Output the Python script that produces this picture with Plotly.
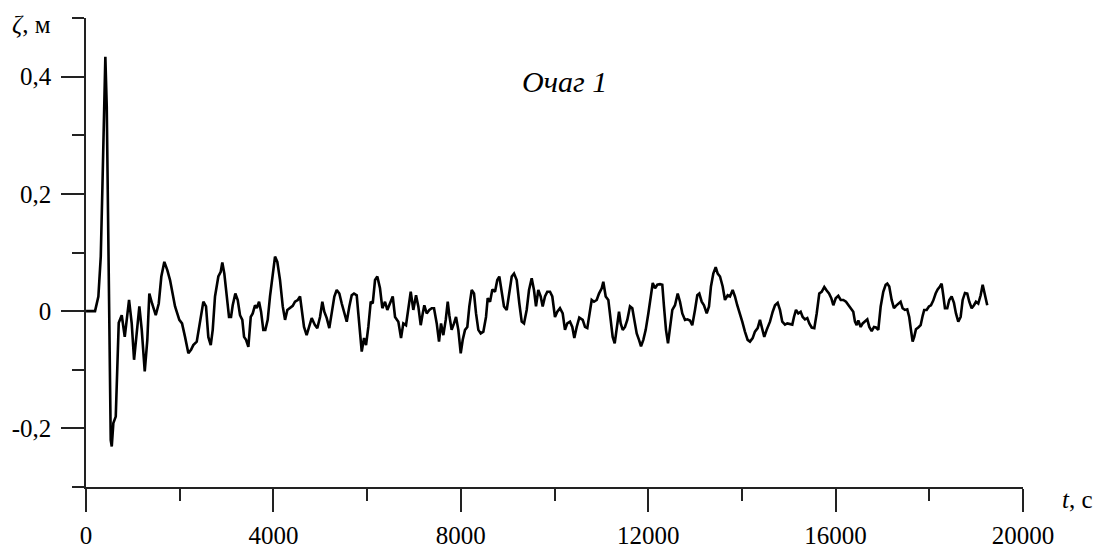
import plotly.graph_objects as go

# Time (s) and sea-level elevation zeta (m)
t = [0, 192, 263, 314, 348, 384, 412, 442, 463, 485, 506, 527, 549, 583, 634, 668, 698, 762, 826,
     918, 975, 1025, 1082, 1138, 1189, 1253, 1308, 1351, 1409, 1488, 1552, 1607, 1671, 1735, 1793,
     1900, 1991, 2049, 2113, 2184, 2241, 2290, 2363, 2433, 2504, 2561, 2610, 2662, 2704, 2753, 2824,
     2875, 2909, 2952, 3003, 3052, 3095, 3131, 3187, 3238, 3287, 3336, 3373, 3415, 3465, 3516, 3558,
     3607, 3644, 3693, 3736, 3784, 3827, 3878, 3927, 3985, 4034, 4083, 4141, 4199, 4248, 4297, 4354,
     4412, 4461, 4519, 4568, 4604, 4653, 4709, 4759, 4817, 4887, 4937, 4995, 5044, 5086, 5138, 5193,
     5244, 5300, 5351, 5407, 5458, 5513, 5565, 5620, 5671, 5720, 5778, 5812, 5848, 5885, 5934, 5977,
     6026, 6077, 6120, 6169, 6218, 6275, 6325, 6382, 6431, 6489, 6547, 6596, 6666, 6724, 6773, 6830,
     6879, 6931, 6986, 7044, 7093, 7144, 7187, 7221, 7272, 7328, 7379, 7428, 7486, 7535, 7578, 7627,
     7678, 7721, 7755, 7804, 7855, 7898, 7947, 7998, 8041, 8090, 8139, 8182, 8233, 8282, 8325, 8374,
     8425, 8481, 8538, 8574, 8624, 8673, 8730, 8779, 8822, 8873, 8922, 8980, 9029, 9087, 9136, 9193,
     9249, 9300, 9349, 9406, 9456, 9513, 9562, 9605, 9654, 9705, 9748, 9797, 9846, 9904, 9953, 10010,
     10060, 10117, 10175, 10224, 10273, 10331, 10380, 10423, 10474, 10529, 10602, 10651, 10700, 10743,
     10794, 10843, 10901, 10950, 11008, 11042, 11093, 11149, 11200, 11242, 11285, 11328, 11377, 11413,
     11456, 11505, 11554, 11612, 11661, 11704, 11755, 11804, 11847, 11896, 11947, 12003, 12054, 12097,
     12146, 12195, 12252, 12301, 12337, 12380, 12423, 12465, 12515, 12572, 12630, 12679, 12728, 12786,
     12835, 12892, 12941, 12999, 13048, 13091, 13142, 13191, 13249, 13298, 13340, 13390, 13441, 13484,
     13533, 13590, 13639, 13697, 13746, 13803, 13852, 13901, 13959, 14008, 14065, 14123, 14173, 14230,
     14279, 14337, 14386, 14435, 14478, 14529, 14578, 14600, 14658, 14707, 14764, 14813, 14862, 14920,
     14969, 15027, 15076, 15112, 15155, 15204, 15255, 15298, 15347, 15396, 15439, 15490, 15546, 15597,
     15652, 15703, 15759, 15810, 15860, 15909, 15952, 16003, 16058, 16110, 16165, 16222, 16271, 16329,
     16378, 16414, 16451, 16485, 16536, 16579, 16628, 16677, 16720, 16771, 16820, 16863, 16912, 16963,
     17018, 17069, 17104, 17146, 17197, 17246, 17289, 17338, 17388, 17431, 17481, 17530, 17572, 17609,
     17645, 17679, 17716, 17765, 17816, 17859, 17892, 17944, 17993, 18036, 18085, 18136, 18179, 18228,
     18264, 18299, 18335, 18384, 18427, 18478, 18527, 18570, 18619, 18670, 18713, 18762, 18811, 18854,
     18905, 18954, 18997, 19046, 19097, 19140, 19189, 19238]

zeta = [0.0, 0.0, 0.025, 0.093, 0.207, 0.377, 0.434, 0.349, 0.178, 0.008, -0.106, -0.220, -0.231,
        -0.191, -0.180, -0.106, -0.020, -0.007, -0.044, 0.019, -0.021, -0.083, -0.038, 0.008, -0.032,
        -0.103, -0.049, 0.030, 0.013, -0.007, 0.013, 0.059, 0.084, 0.070, 0.053, 0.008, -0.015, -0.021,
        -0.044, -0.072, -0.066, -0.058, -0.052, -0.015, 0.016, 0.008, -0.044, -0.058, -0.032, 0.025,
        0.059, 0.067, 0.083, 0.064, 0.025, -0.010, -0.010, 0.010, 0.030, 0.019, -0.007, -0.015, -0.044,
        -0.049, -0.061, -0.010, -0.004, 0.010, 0.005, 0.016, -0.001, -0.032, -0.032, -0.015, 0.025,
        0.064, 0.093, 0.084, 0.053, 0.008, -0.015, 0.002, 0.005, 0.009, 0.016, 0.019, 0.025, 0.002,
        -0.027, -0.041, -0.027, -0.012, -0.024, -0.029, -0.010, 0.016, -0.001, -0.012, -0.029, -0.004,
        0.025, 0.036, 0.030, 0.013, -0.004, -0.018, 0.008, 0.027, 0.030, 0.027, -0.004, -0.044, -0.069,
        -0.046, -0.058, -0.027, 0.016, 0.013, 0.053, 0.059, 0.039, 0.005, 0.016, 0.002, 0.013, 0.025,
        -0.010, -0.018, -0.046, -0.021, -0.024, 0.002, 0.033, 0.002, 0.027, 0.008, -0.024, -0.004,
        0.010, -0.004, 0.002, 0.005, 0.005, -0.021, -0.052, -0.021, -0.041, -0.015, 0.016, -0.007,
        -0.032, -0.021, -0.010, -0.032, -0.072, -0.049, -0.032, -0.027, 0.008, 0.036, 0.030, -0.004,
        -0.032, -0.038, -0.035, -0.010, 0.022, 0.016, 0.037, 0.033, 0.053, 0.059, 0.036, 0.008, 0.002,
        0.030, 0.059, 0.064, 0.053, 0.013, -0.018, -0.021, 0.002, 0.036, 0.056, 0.036, 0.008, 0.036,
        0.025, 0.008, 0.025, 0.033, 0.033, 0.025, -0.010, -0.001, 0.005, -0.004, -0.032, -0.021, -0.018,
        -0.027, -0.046, -0.027, -0.011, -0.015, -0.027, -0.029, -0.004, 0.019, 0.016, 0.019, 0.030,
        0.039, 0.050, 0.025, 0.019, -0.015, -0.044, -0.055, -0.027, -0.001, -0.021, -0.032, -0.027,
        -0.015, 0.008, 0.005, -0.015, -0.038, -0.049, -0.060, -0.049, -0.032, -0.004, 0.030, 0.048,
        0.039, 0.045, 0.046, 0.045, 0.008, -0.032, -0.055, -0.027, 0.002, 0.010, 0.030, 0.016, -0.004,
        -0.015, -0.014, -0.016, -0.024, 0.002, 0.027, 0.030, 0.016, 0.010, -0.004, 0.008, 0.042, 0.064,
        0.075, 0.064, 0.059, 0.042, 0.019, 0.027, 0.025, 0.036, 0.025, 0.010, -0.004, -0.018, -0.035,
        -0.049, -0.052, -0.046, -0.035, -0.029, -0.015, -0.029, -0.044, -0.032, -0.024, -0.018, -0.001,
        0.010, 0.014, 0.002, -0.018, -0.023, -0.021, -0.022, -0.023, -0.010, 0.002, -0.004, -0.001,
        -0.010, -0.014, -0.012, -0.021, -0.028, -0.029, -0.004, 0.030, 0.033, 0.041, 0.035, 0.030,
        0.022, 0.010, 0.022, 0.026, 0.019, 0.019, 0.016, 0.010, 0.005, -0.001, -0.018, -0.024, -0.016,
        -0.027, -0.021, -0.018, -0.014, -0.027, -0.034, -0.027, -0.028, -0.032, 0.008, 0.033, 0.045,
        0.047, 0.042, 0.019, 0.005, 0.009, 0.013, 0.016, 0.005, 0.002, 0.003, -0.010, -0.032, -0.052,
        -0.044, -0.031, -0.028, -0.024, -0.008, 0.002, 0.002, 0.008, 0.010, 0.018, 0.030, 0.037, 0.042,
        0.047, 0.027, 0.005, 0.005, 0.019, 0.025, 0.014, -0.004, -0.018, -0.010, 0.019, 0.031, 0.030,
        0.016, 0.005, 0.010, 0.016, 0.013, 0.027, 0.045, 0.027, 0.010]

x_tickvals = [0, 4000, 8000, 12000, 16000, 20000]
x_ticktext = ["0", "4000", "8000", "12000", "16000", "20000"]
y_tickvals = [-0.2, 0, 0.2, 0.4]
y_ticktext = ["-0,2", "0", "0,2", "0,4"]

FONT = "Liberation Serif"
AX = "#222222"

fig = go.Figure()
fig.add_trace(go.Scatter(x=t, y=zeta, mode="lines",
                         line=dict(color="black", width=2.6), showlegend=False))

fig.update_layout(
    width=1095, height=548,
    margin=dict(l=86, r=72, t=18, b=61, autoexpand=False),
    paper_bgcolor="white", plot_bgcolor="white",
    font=dict(family=FONT, size=25, color="black"),
    xaxis=dict(range=[-1, 20001], showgrid=False, zeroline=False, automargin=False,
               showline=True, linecolor=AX, linewidth=1.5,
               ticks="outside", ticklen=23, tickwidth=1.5, tickcolor=AX,
               tickvals=x_tickvals, ticktext=x_ticktext, ticklabelstandoff=2,
               minor=dict(dtick=2000, tick0=0, ticks="outside", ticklen=12,
                          tickwidth=1.5, tickcolor=AX, showgrid=False),
               tickfont=dict(family=FONT, size=25, color="black")),
    yaxis=dict(range=[-0.3001, 0.5001], showgrid=False, zeroline=False, automargin=False,
               showline=True, linecolor=AX, linewidth=1.5,
               ticks="outside", ticklen=23, tickwidth=1.5, tickcolor=AX,
               tickvals=y_tickvals, ticktext=y_ticktext, ticklabelstandoff=5,
               minor=dict(dtick=0.1, tick0=0, ticks="outside", ticklen=12,
                          tickwidth=1.5, tickcolor=AX, showgrid=False),
               tickfont=dict(family=FONT, size=25, color="black")),
)

fig.add_annotation(text="<i>ζ</i>, м", xref="paper", yref="paper", x=0, y=0.987,
                   xanchor="right", yanchor="middle", xshift=-33, showarrow=False,
                   font=dict(family=FONT, size=25, color="black"))
fig.add_annotation(text="<i>t</i>, c", xref="paper", yref="paper", x=1, y=-0.026,
                   xanchor="left", yanchor="middle", xshift=37, showarrow=False,
                   font=dict(family=FONT, size=25, color="black"))
fig.add_annotation(text="<i>Очаг 1</i>", xref="paper", yref="paper", x=0.511, y=0.864,
                   xanchor="center", yanchor="middle", showarrow=False,
                   font=dict(family=FONT, size=30, color="black"))

fig.write_html("out.html")
